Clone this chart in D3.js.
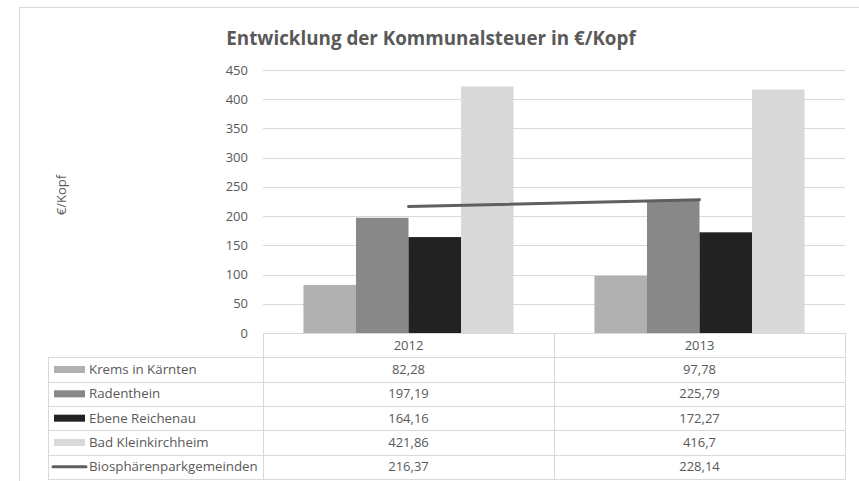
<!DOCTYPE html>
<html>
<head>
<meta charset="utf-8">
<script src="https://cdn.jsdelivr.net/npm/d3@7"></script>
<style>
	body { margin: 0; background: #fff; }
	svg { display: block; font-family: 'Open Sans', sans-serif; }
	.grid line { stroke: #d9d9d9; }
	.tick-label, .cell, .row-label, .y-title { fill: #595959; }
	.table line { stroke: #d9d9d9; }
</style>
</head>
<body>
<div id="chart"></div>
<script>
const categories = ['2012', '2013']
const seriesNames = ['Krems in Kärnten', 'Radenthein', 'Ebene Reichenau', 'Bad Kleinkirchheim']
const kremsValues = [82.28, 97.78]
const radentheinValues = [197.19, 225.79]
const ebeneValues = [164.16, 172.27]
const badValues = [421.86, 416.7]
const lineName = 'Biosphärenparkgemeinden'
const lineValues = [216.37, 228.14]
const yTicks = [0, 50, 100, 150, 200, 250, 300, 350, 400, 450]
const barColors = ['#b1b1b1', '#888888', '#222222', '#d9d9d9']
const lineColor = '#5f5f5f'

const barSeries = [kremsValues, radentheinValues, ebeneValues, badValues]
const fmt = v => String(v).replace('.', ',')

function drawchart() {
	const W = 859, H = 481
	const svg = d3.select('#chart').append('svg').attr('width', W).attr('height', H)

	// outer frame (runs off the right and bottom)
	svg.append('rect')
		.attr('x', 19.5).attr('y', 7.5)
		.attr('width', W).attr('height', H)
		.attr('fill', 'none').attr('stroke', '#d9d9d9')

	svg.append('text')
		.attr('x', 431).attr('y', 45)
		.attr('text-anchor', 'middle')
		.attr('font-size', 18.8).attr('font-weight', 'bold')
		.attr('fill', '#595959')
		.text('Entwicklung der Kommunalsteuer in €/Kopf')

	const x = d3.scaleBand().domain(categories).range([263, 845])
	const xs = d3.scaleBand().domain(seriesNames).range([0, x.bandwidth()]).paddingOuter(0.77)
	const y = d3.scaleLinear().domain([0, 450]).range([333, 70])

	const grid = svg.append('g').attr('class', 'grid')
	grid.selectAll('line').data(yTicks).join('line')
		.attr('x1', 263).attr('x2', 845)
		.attr('y1', d => Math.round(y(d)) + 0.5).attr('y2', d => Math.round(y(d)) + 0.5)

	svg.append('g').selectAll('text').data(yTicks).join('text')
		.attr('class', 'tick-label')
		.attr('x', 248).attr('y', d => y(d) + 4.5)
		.attr('text-anchor', 'end').attr('font-size', 13)
		.text(d => d)

	svg.append('text')
		.attr('class', 'y-title')
		.attr('transform', `translate(66,195) rotate(-90)`)
		.attr('text-anchor', 'middle').attr('font-size', 13)
		.text('€/Kopf')

	// bars
	barSeries.forEach((vals, i) => {
		svg.append('g').selectAll('rect').data(vals).join('rect')
			.attr('x', (d, j) => x(categories[j]) + xs(seriesNames[i]))
			.attr('width', xs.bandwidth())
			.attr('y', d => y(d))
			.attr('height', d => y(0) - y(d))
			.attr('fill', barColors[i])
	})

	// line series
	const line = d3.line()
		.x((d, j) => x(categories[j]) + x.bandwidth() / 2)
		.y(d => y(d))
	svg.append('path')
		.datum(lineValues)
		.attr('d', line)
		.attr('fill', 'none').attr('stroke', lineColor)
		.attr('stroke-width', 3).attr('stroke-linecap', 'round')

	// data table
	const rowKeys = ['header', ...seriesNames, lineName]
	const rowValues = [categories, ...barSeries, lineValues]
	const r = d3.scaleBand().domain(rowKeys).range([333, 479])
	const table = svg.append('g').attr('class', 'table')

	// horizontal lines
	table.selectAll('line.h').data(rowKeys.concat(['end'])).join('line')
		.attr('class', 'h')
		.attr('x1', (d, i) => i === 0 ? 263 : 48).attr('x2', 845)
		.attr('y1', (d, i) => Math.round(r.range()[0] + i * r.step()) + 0.5)
		.attr('y2', (d, i) => Math.round(r.range()[0] + i * r.step()) + 0.5)
	// vertical lines
	const vx = [48, 263, x('2013'), 845]
	table.selectAll('line.v').data(vx).join('line')
		.attr('class', 'v')
		.attr('x1', d => d + 0.5).attr('x2', d => d + 0.5)
		.attr('y1', (d, i) => i === 0 ? r(seriesNames[0]) : 333)
		.attr('y2', 479.5)

	rowKeys.forEach((key, i) => {
		const cy = r(key) + r.bandwidth() / 2 + 4.5
		table.selectAll(null).data(rowValues[i]).join('text')
			.attr('class', 'cell')
			.attr('x', (d, j) => x(categories[j]) + x.bandwidth() / 2)
			.attr('y', cy)
			.attr('text-anchor', 'middle').attr('font-size', 13)
			.text(d => i === 0 ? d : fmt(d))
		if (i === 0) return
		table.append('text')
			.attr('class', 'row-label')
			.attr('x', 89).attr('y', cy)
			.attr('font-size', 13.3)
			.text(key)
		const my = r(key) + r.bandwidth() / 2
		if (key === lineName) {
			table.append('line')
				.attr('x1', 53).attr('x2', 86)
				.attr('y1', my).attr('y2', my)
				.style('stroke', lineColor).attr('stroke-width', 3)
				.attr('stroke-linecap', 'round')
		} else {
			table.append('rect')
				.attr('x', 54).attr('y', my - 3.5)
				.attr('width', 31).attr('height', 7)
				.attr('fill', barColors[seriesNames.indexOf(key)])
		}
	})
}

drawchart()
</script>
</body>
</html>
